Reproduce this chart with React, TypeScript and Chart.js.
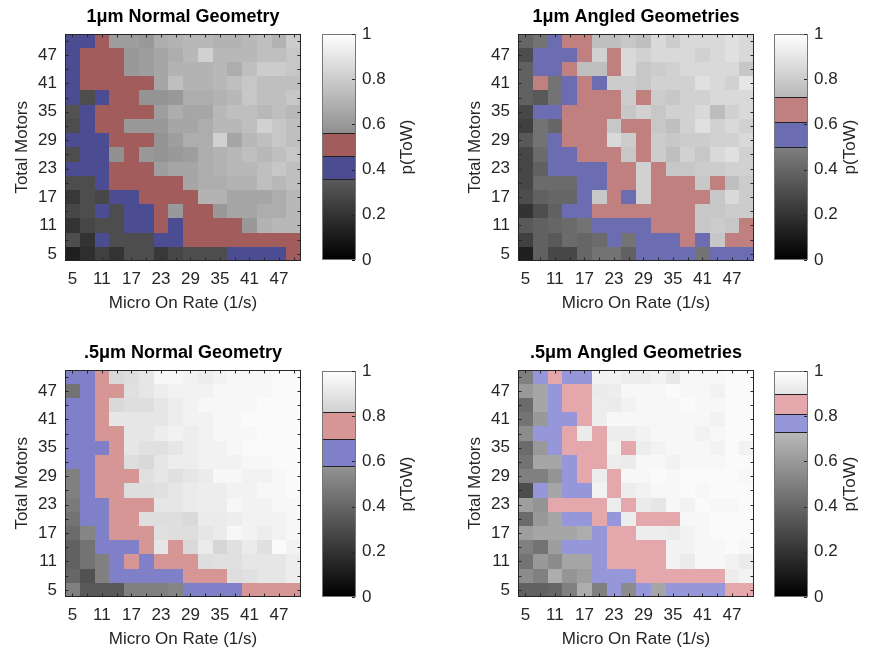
import React, { useEffect, useRef } from "react";
import { Chart, registerables } from "chart.js";

Chart.register(...registerables);

// ---------- data ----------
const microOnRate = [5, 8, 11, 14, 17, 20, 23, 26, 29, 32, 35, 38, 41, 44, 47, 50];
const totalMotors = [5, 8, 11, 14, 17, 20, 23, 26, 29, 32, 35, 38, 41, 44, 47, 50];
const axisTicks = [5, 11, 17, 23, 29, 35, 41, 47];
const colorbarTicks = [0, 0.2, 0.4, 0.6, 0.8, 1];

// p(ToW) values, rows listed from top (50 motors) to bottom (5 motors)
const pTow1umNormal = [
  [0.41, 0.41, 0.51, 0.62, 0.62, 0.60, 0.68, 0.70, 0.72, 0.72, 0.70, 0.70, 0.72, 0.75, 0.70, 0.80],
  [0.41, 0.51, 0.51, 0.51, 0.60, 0.62, 0.65, 0.68, 0.72, 0.82, 0.72, 0.72, 0.72, 0.75, 0.75, 0.78],
  [0.41, 0.51, 0.51, 0.51, 0.60, 0.62, 0.65, 0.70, 0.70, 0.70, 0.72, 0.68, 0.75, 0.80, 0.80, 0.78],
  [0.41, 0.51, 0.51, 0.51, 0.51, 0.51, 0.65, 0.75, 0.70, 0.70, 0.72, 0.75, 0.78, 0.75, 0.75, 0.75],
  [0.41, 0.30, 0.41, 0.51, 0.51, 0.58, 0.58, 0.60, 0.68, 0.68, 0.70, 0.72, 0.78, 0.75, 0.75, 0.78],
  [0.32, 0.41, 0.51, 0.51, 0.51, 0.51, 0.62, 0.68, 0.65, 0.65, 0.72, 0.75, 0.75, 0.72, 0.75, 0.72],
  [0.30, 0.41, 0.51, 0.51, 0.60, 0.60, 0.60, 0.65, 0.65, 0.68, 0.72, 0.72, 0.75, 0.82, 0.78, 0.75],
  [0.41, 0.41, 0.41, 0.51, 0.51, 0.51, 0.58, 0.62, 0.68, 0.68, 0.82, 0.65, 0.72, 0.75, 0.78, 0.75],
  [0.30, 0.41, 0.41, 0.57, 0.51, 0.60, 0.58, 0.60, 0.62, 0.68, 0.70, 0.72, 0.75, 0.72, 0.75, 0.78],
  [0.41, 0.41, 0.41, 0.51, 0.51, 0.51, 0.62, 0.65, 0.65, 0.68, 0.70, 0.72, 0.72, 0.75, 0.78, 0.75],
  [0.30, 0.30, 0.41, 0.51, 0.51, 0.51, 0.51, 0.51, 0.65, 0.68, 0.68, 0.70, 0.70, 0.75, 0.72, 0.75],
  [0.22, 0.30, 0.28, 0.41, 0.41, 0.51, 0.51, 0.51, 0.51, 0.70, 0.70, 0.65, 0.65, 0.65, 0.68, 0.72],
  [0.28, 0.30, 0.41, 0.30, 0.41, 0.41, 0.51, 0.60, 0.51, 0.51, 0.60, 0.65, 0.65, 0.68, 0.68, 0.72],
  [0.20, 0.28, 0.30, 0.30, 0.41, 0.41, 0.51, 0.41, 0.51, 0.51, 0.51, 0.51, 0.60, 0.70, 0.72, 0.72],
  [0.30, 0.20, 0.41, 0.30, 0.30, 0.30, 0.41, 0.41, 0.51, 0.51, 0.51, 0.51, 0.51, 0.51, 0.51, 0.51],
  [0.12, 0.18, 0.25, 0.20, 0.30, 0.30, 0.22, 0.28, 0.30, 0.30, 0.30, 0.41, 0.41, 0.41, 0.41, 0.51],
];

const pTow1umAngled = [
  [0.40, 0.45, 0.55, 0.67, 0.67, 0.75, 0.75, 0.78, 0.75, 0.85, 0.80, 0.85, 0.85, 0.85, 0.88, 0.85],
  [0.30, 0.55, 0.55, 0.55, 0.67, 0.82, 0.67, 0.85, 0.82, 0.85, 0.85, 0.85, 0.82, 0.85, 0.88, 0.85],
  [0.38, 0.55, 0.55, 0.67, 0.75, 0.75, 0.67, 0.85, 0.78, 0.80, 0.82, 0.85, 0.85, 0.85, 0.85, 0.78],
  [0.38, 0.67, 0.45, 0.55, 0.67, 0.55, 0.80, 0.80, 0.78, 0.82, 0.82, 0.82, 0.88, 0.85, 0.82, 0.90],
  [0.38, 0.35, 0.45, 0.55, 0.67, 0.67, 0.67, 0.80, 0.67, 0.80, 0.78, 0.82, 0.82, 0.85, 0.85, 0.85],
  [0.28, 0.55, 0.55, 0.67, 0.67, 0.67, 0.67, 0.78, 0.82, 0.78, 0.82, 0.82, 0.85, 0.74, 0.82, 0.85],
  [0.25, 0.45, 0.40, 0.67, 0.67, 0.67, 0.78, 0.67, 0.67, 0.78, 0.75, 0.82, 0.88, 0.82, 0.85, 0.82],
  [0.35, 0.45, 0.55, 0.67, 0.67, 0.67, 0.85, 0.80, 0.67, 0.80, 0.78, 0.80, 0.80, 0.82, 0.82, 0.85],
  [0.28, 0.42, 0.55, 0.55, 0.67, 0.67, 0.67, 0.78, 0.67, 0.80, 0.75, 0.82, 0.78, 0.85, 0.88, 0.82],
  [0.28, 0.38, 0.55, 0.55, 0.55, 0.55, 0.67, 0.67, 0.82, 0.67, 0.78, 0.78, 0.80, 0.80, 0.82, 0.82],
  [0.28, 0.42, 0.42, 0.42, 0.55, 0.55, 0.67, 0.67, 0.82, 0.67, 0.67, 0.67, 0.78, 0.67, 0.75, 0.80],
  [0.30, 0.38, 0.40, 0.40, 0.55, 0.78, 0.67, 0.55, 0.82, 0.67, 0.67, 0.67, 0.67, 0.78, 0.85, 0.80],
  [0.20, 0.30, 0.38, 0.55, 0.55, 0.67, 0.67, 0.67, 0.67, 0.67, 0.67, 0.67, 0.78, 0.78, 0.80, 0.80],
  [0.35, 0.38, 0.40, 0.42, 0.45, 0.55, 0.55, 0.55, 0.55, 0.67, 0.67, 0.67, 0.78, 0.80, 0.78, 0.67],
  [0.25, 0.38, 0.35, 0.42, 0.40, 0.42, 0.55, 0.45, 0.55, 0.55, 0.55, 0.67, 0.55, 0.78, 0.67, 0.67],
  [0.12, 0.38, 0.28, 0.28, 0.40, 0.45, 0.45, 0.38, 0.55, 0.55, 0.55, 0.55, 0.45, 0.55, 0.55, 0.55],
];

const pTowHalfUmNormal = [
  [0.64, 0.64, 0.76, 0.85, 0.87, 0.90, 0.97, 0.97, 0.95, 0.93, 0.95, 0.97, 0.97, 0.97, 0.98, 0.98],
  [0.45, 0.64, 0.76, 0.76, 0.88, 0.90, 0.93, 0.95, 0.95, 0.95, 0.97, 0.97, 0.97, 0.97, 0.98, 0.98],
  [0.64, 0.64, 0.76, 0.85, 0.87, 0.87, 0.90, 0.93, 0.95, 0.97, 0.97, 0.97, 0.97, 0.98, 0.98, 0.98],
  [0.64, 0.64, 0.76, 0.90, 0.90, 0.90, 0.90, 0.93, 0.95, 0.95, 0.97, 0.97, 0.98, 0.98, 0.98, 0.98],
  [0.64, 0.64, 0.76, 0.76, 0.90, 0.90, 0.93, 0.95, 0.93, 0.95, 0.97, 0.97, 0.97, 0.98, 0.98, 0.98],
  [0.64, 0.64, 0.64, 0.76, 0.90, 0.88, 0.88, 0.90, 0.93, 0.95, 0.95, 0.97, 0.98, 0.98, 0.98, 0.98],
  [0.66, 0.64, 0.76, 0.76, 0.87, 0.85, 0.90, 0.93, 0.93, 0.95, 0.95, 0.95, 0.97, 0.97, 0.98, 0.98],
  [0.50, 0.64, 0.76, 0.76, 0.76, 0.88, 0.90, 0.88, 0.90, 0.92, 0.97, 0.97, 0.95, 0.95, 0.97, 0.98],
  [0.50, 0.64, 0.76, 0.76, 0.87, 0.87, 0.88, 0.90, 0.92, 0.93, 0.93, 0.95, 0.95, 0.97, 0.97, 0.98],
  [0.48, 0.64, 0.64, 0.76, 0.76, 0.76, 0.90, 0.90, 0.92, 0.93, 0.93, 0.97, 0.95, 0.95, 0.97, 0.97],
  [0.45, 0.64, 0.64, 0.76, 0.76, 0.87, 0.87, 0.87, 0.85, 0.92, 0.92, 0.93, 0.95, 0.95, 0.95, 0.97],
  [0.42, 0.52, 0.64, 0.76, 0.76, 0.76, 0.88, 0.87, 0.87, 0.90, 0.92, 0.97, 0.95, 0.93, 0.95, 0.97],
  [0.38, 0.45, 0.64, 0.64, 0.64, 0.76, 0.90, 0.76, 0.85, 0.92, 0.84, 0.88, 0.92, 0.88, 0.98, 0.95],
  [0.38, 0.45, 0.50, 0.64, 0.76, 0.64, 0.76, 0.76, 0.76, 0.87, 0.88, 0.88, 0.90, 0.90, 0.90, 0.93],
  [0.40, 0.32, 0.50, 0.64, 0.64, 0.64, 0.64, 0.64, 0.76, 0.76, 0.76, 0.87, 0.88, 0.90, 0.90, 0.93],
  [0.50, 0.35, 0.35, 0.35, 0.50, 0.50, 0.50, 0.52, 0.64, 0.64, 0.64, 0.64, 0.76, 0.76, 0.76, 0.76],
];

const pTowHalfUmAngled = [
  [0.50, 0.77, 0.855, 0.77, 0.77, 0.95, 0.95, 0.93, 0.93, 0.95, 0.91, 0.97, 0.97, 0.97, 0.98, 0.98],
  [0.60, 0.65, 0.77, 0.855, 0.855, 0.92, 0.93, 0.97, 0.97, 0.97, 0.98, 0.97, 0.97, 0.95, 0.98, 0.98],
  [0.42, 0.65, 0.77, 0.855, 0.855, 0.93, 0.92, 0.95, 0.97, 0.97, 0.97, 0.98, 0.97, 0.97, 0.98, 0.98],
  [0.45, 0.60, 0.77, 0.77, 0.855, 0.93, 0.97, 0.97, 0.97, 0.97, 0.97, 0.97, 0.97, 0.95, 0.98, 0.98],
  [0.55, 0.77, 0.77, 0.855, 0.92, 0.855, 0.93, 0.93, 0.95, 0.97, 0.97, 0.97, 0.95, 0.97, 0.98, 0.98],
  [0.42, 0.60, 0.77, 0.855, 0.855, 0.855, 0.95, 0.855, 0.93, 0.95, 0.97, 0.97, 0.97, 0.95, 0.98, 0.95],
  [0.45, 0.65, 0.65, 0.77, 0.855, 0.855, 0.93, 0.92, 0.97, 0.97, 0.95, 0.97, 0.97, 0.97, 0.98, 0.98],
  [0.50, 0.50, 0.58, 0.77, 0.855, 0.93, 0.855, 0.97, 0.97, 0.98, 0.97, 0.98, 0.98, 0.98, 0.98, 0.97],
  [0.30, 0.77, 0.65, 0.77, 0.77, 0.95, 0.855, 0.93, 0.95, 0.97, 0.97, 0.98, 0.97, 0.98, 0.98, 0.98],
  [0.62, 0.58, 0.855, 0.855, 0.855, 0.855, 0.93, 0.855, 0.92, 0.90, 0.97, 0.95, 0.98, 0.97, 0.97, 0.98],
  [0.42, 0.60, 0.65, 0.77, 0.77, 0.855, 0.77, 0.93, 0.855, 0.855, 0.855, 0.97, 0.97, 0.98, 0.98, 0.98],
  [0.62, 0.65, 0.65, 0.65, 0.68, 0.77, 0.855, 0.855, 0.93, 0.93, 0.92, 0.95, 0.97, 0.98, 0.98, 0.98],
  [0.50, 0.45, 0.62, 0.77, 0.77, 0.77, 0.855, 0.855, 0.855, 0.855, 0.95, 0.95, 0.97, 0.97, 0.98, 0.97],
  [0.45, 0.60, 0.55, 0.65, 0.65, 0.77, 0.855, 0.855, 0.855, 0.855, 0.95, 0.92, 0.97, 0.97, 0.95, 0.92],
  [0.55, 0.50, 0.68, 0.58, 0.62, 0.77, 0.77, 0.77, 0.855, 0.855, 0.855, 0.855, 0.855, 0.855, 0.93, 0.95],
  [0.38, 0.38, 0.40, 0.50, 0.68, 0.50, 0.77, 0.55, 0.77, 0.65, 0.77, 0.77, 0.77, 0.77, 0.855, 0.855],
];

// colormap bands: [blue low, blue/red boundary, red high]
const bands1umNormal = [0.36, 0.46, 0.56];
const bands1umAngled = [0.5, 0.61, 0.72];
const bandsHalfUmNormal = [0.58, 0.7, 0.82];
const bandsHalfUmAngled = [0.73, 0.81, 0.9];

// ---------- styles ----------
const FONT = "'Liberation Sans', Arial, Helvetica, sans-serif";
const TEXT = "#262626";

type Panel = {
  title: string;
  values: number[][];
  bands: number[];
  blue: string;
  red: string;
  left: number;
  top: number;
  cbLeft: number;
  cbWidth: number;
  cbLabelOffset: number;
};

const panels: Panel[] = [
  { title: "1\u03bcm Normal Geometry", values: pTow1umNormal, bands: bands1umNormal, blue: "rgb(76,76,146)", red: "rgb(163,92,92)", left: 0, top: 0, cbLeft: 310, cbWidth: 120, cbLabelOffset: 51 },
  { title: "1\u03bcm Angled Geometries", values: pTow1umAngled, bands: bands1umAngled, blue: "rgb(108,108,178)", red: "rgb(192,128,128)", left: 453, top: 0, cbLeft: 762, cbWidth: 108, cbLabelOffset: 42 },
  { title: ".5\u03bcm Normal Geometry", values: pTowHalfUmNormal, bands: bandsHalfUmNormal, blue: "rgb(128,128,200)", red: "rgb(214,150,150)", left: 0, top: 336, cbLeft: 310, cbWidth: 120, cbLabelOffset: 51 },
  { title: ".5\u03bcm Angled Geometries", values: pTowHalfUmAngled, bands: bandsHalfUmAngled, blue: "rgb(150,150,218)", red: "rgb(228,168,172)", left: 453, top: 336, cbLeft: 762, cbWidth: 108, cbLabelOffset: 42 },
];

function cellColor(v: number, p: Panel) {
  const [b0, b1, b2] = p.bands;
  if (v >= b0 && v < b1) return p.blue;
  if (v >= b1 && v < b2) return p.red;
  const g = Math.round(v * 255);
  return `rgb(${g},${g},${g})`;
}

function HeatmapPanel({ panel }: { panel: Panel }) {
  const ref = useRef<HTMLCanvasElement>(null);
  const cbRef = useRef<HTMLCanvasElement>(null);

  useEffect(() => {
    const points: { x: number; y: number; v: number }[] = [];
    panel.values.forEach((row, r) => {
      row.forEach((v, c) => {
        points.push({ x: microOnRate[c], y: totalMotors[totalMotors.length - 1 - r], v });
      });
    });
    const half = (microOnRate[1] - microOnRate[0]) / 2;

    const cellPlugin = {
      id: "cells",
      beforeDatasetsDraw(chart: any) {
        const { ctx, chartArea } = chart;
        const xs = chart.scales.x;
        const ys = chart.scales.y;
        ctx.save();
        const data = chart.data.datasets[0].data as any[];
        for (const p of data) {
          const x0 = Math.round(xs.getPixelForValue(p.x - half));
          const x1 = Math.round(xs.getPixelForValue(p.x + half));
          const y0 = Math.round(ys.getPixelForValue(p.y + half));
          const y1 = Math.round(ys.getPixelForValue(p.y - half));
          ctx.fillStyle = cellColor(p.v, panel);
          ctx.fillRect(x0, y0, x1 - x0, y1 - y0);
        }
        // box + inward ticks
        ctx.strokeStyle = TEXT;
        ctx.lineWidth = 1;
        const l = Math.round(chartArea.left) + 0.5;
        const r = Math.round(chartArea.right) - 0.5;
        const t = Math.round(chartArea.top) + 0.5;
        const b = Math.round(chartArea.bottom) - 0.5;
        ctx.strokeRect(l, t, r - l, b - t);
        ctx.beginPath();
        for (const v of microOnRate) {
          const px = Math.round(xs.getPixelForValue(v)) + 0.5;
          ctx.moveTo(px, b); ctx.lineTo(px, b - 3);
          ctx.moveTo(px, t); ctx.lineTo(px, t + 3);
        }
        for (const v of totalMotors) {
          const py = Math.round(ys.getPixelForValue(v)) + 0.5;
          ctx.moveTo(l, py); ctx.lineTo(l + 3, py);
          ctx.moveTo(r, py); ctx.lineTo(r - 3, py);
        }
        ctx.stroke();
        ctx.restore();
      },
    };

    const tickFont = { family: FONT, size: 17 };
    const chart = new Chart(ref.current!, {
      type: "scatter",
      data: { datasets: [{ data: points as any, pointRadius: 0, pointHoverRadius: 0 }] },
      options: {
        animation: false,
        responsive: false,
        events: [],
        layout: { padding: { left: 0, right: 9, top: 0, bottom: 6 } },
        plugins: {
          legend: { display: false },
          tooltip: { enabled: false },
          title: {
            display: true,
            text: panel.title,
            fullSize: false,
            color: "#000",
            font: { family: FONT, size: 18, weight: "bold" },
            padding: { top: 6, bottom: 6 },
          },
        },
        scales: {
          x: {
            type: "linear",
            min: microOnRate[0] - half,
            max: microOnRate[microOnRate.length - 1] + half,
            afterBuildTicks: (s: any) => { s.ticks = axisTicks.map((v) => ({ value: v })); },
            afterFit: (s: any) => { s.height = 53; },
            ticks: { padding: 8, color: TEXT, font: tickFont, maxRotation: 0, autoSkip: false },
            grid: { display: false, drawTicks: false },
            border: { display: false },
            title: { display: true, text: "Micro On Rate (1/s)", color: TEXT, font: tickFont, padding: { top: 0, bottom: 0 } },
          },
          y: {
            type: "linear",
            min: totalMotors[0] - half,
            max: totalMotors[totalMotors.length - 1] + half,
            afterBuildTicks: (s: any) => { s.ticks = axisTicks.map((v) => ({ value: v })); },
            afterFit: (s: any) => { s.width = 65; },
            ticks: { padding: 8, color: TEXT, font: tickFont, autoSkip: false },
            grid: { display: false, drawTicks: false },
            border: { display: false },
            title: { display: true, text: "Total Motors", color: TEXT, font: tickFont, padding: { top: 12, bottom: 0 } },
          },
        },
      } as any,
      plugins: [cellPlugin],
    });

    const cbPlugin = {
      id: "colorbar",
      beforeDatasetsDraw(c: any) {
        const { ctx, chartArea } = c;
        const ys = c.scales.y;
        const l = Math.round(chartArea.left);
        const r = Math.round(chartArea.right);
        const y0 = ys.getPixelForValue(0);
        const y1 = ys.getPixelForValue(1);
        ctx.save();
        const grad = ctx.createLinearGradient(0, y0, 0, y1);
        grad.addColorStop(0, "#000");
        grad.addColorStop(1, "#fff");
        ctx.fillStyle = grad;
        ctx.fillRect(l, y1, r - l, y0 - y1);
        const [b0, b1, b2] = panel.bands;
        const pb0 = Math.round(ys.getPixelForValue(b0));
        const pb1 = Math.round(ys.getPixelForValue(b1));
        const pb2 = Math.round(ys.getPixelForValue(b2));
        ctx.fillStyle = panel.blue;
        ctx.fillRect(l, pb1, r - l, pb0 - pb1);
        ctx.fillStyle = panel.red;
        ctx.fillRect(l, pb2, r - l, pb1 - pb2);
        ctx.strokeStyle = "#222";
        ctx.lineWidth = 1;
        ctx.strokeRect(l + 0.5, pb2 + 0.5, r - l - 1, pb0 - pb2);
        ctx.beginPath();
        ctx.moveTo(l, pb1 + 0.5); ctx.lineTo(r, pb1 + 0.5);
        ctx.stroke();
        ctx.strokeStyle = "#777";
        ctx.strokeRect(l + 0.5, Math.round(y1) + 0.5, r - l - 1, Math.round(y0) - Math.round(y1) - 1);
        ctx.strokeStyle = TEXT;
        ctx.beginPath();
        for (const v of colorbarTicks) {
          const py = Math.round(ys.getPixelForValue(v)) + 0.5;
          ctx.moveTo(r - 1, py); ctx.lineTo(r - 4, py);
        }
        ctx.stroke();
        // colorbar label
        ctx.translate(r + panel.cbLabelOffset, (chartArea.top + chartArea.bottom) / 2);
        ctx.rotate(-Math.PI / 2);
        ctx.fillStyle = TEXT;
        ctx.font = `17px ${FONT}`;
        ctx.textAlign = "center";
        ctx.textBaseline = "middle";
        ctx.fillText("p(ToW)", 0, 0);
        ctx.restore();
      },
    };

    const cb = new Chart(cbRef.current!, {
      type: "scatter",
      data: { datasets: [{ data: [], pointRadius: 0 }] },
      options: {
        animation: false,
        responsive: false,
        events: [],
        layout: { padding: { left: 12, right: 0, top: panel.top === 0 ? 34 : 35, bottom: panel.top === 0 ? 60 : 59 } },
        plugins: { legend: { display: false }, tooltip: { enabled: false } },
        scales: {
          x: { display: false, min: 0, max: 1 },
          y: {
            position: "right",
            min: 0,
            max: 1,
            afterBuildTicks: (s: any) => { s.ticks = colorbarTicks.map((v) => ({ value: v })); },
            afterFit: (s: any) => { s.width = panel.cbWidth - 12 - 34; },
            ticks: { padding: 6, color: TEXT, font: { family: FONT, size: 17 }, callback: (v: any) => String(Number(v)) },
            grid: { display: false, drawTicks: false },
            border: { display: false },
          },
        },
      } as any,
      plugins: [cbPlugin],
    });

    return () => {
      chart.destroy();
      cb.destroy();
    };
  }, [panel]);

  return (
    <>
      <canvas
        ref={ref}
        width={310}
        height={320}
        style={{ position: "absolute", left: panel.left, top: panel.top, width: 310, height: 320 }}
      />
      <canvas
        ref={cbRef}
        width={panel.cbWidth}
        height={320}
        style={{ position: "absolute", left: panel.cbLeft, top: panel.top, width: panel.cbWidth, height: 320 }}
      />
    </>
  );
}

export default function App() {
  return (
    <div style={{ position: "fixed", left: 0, top: 0, width: 870, height: 653, background: "#fff", overflow: "hidden" }}>
      {panels.map((p) => (
        <HeatmapPanel key={p.title} panel={p} />
      ))}
    </div>
  );
}
